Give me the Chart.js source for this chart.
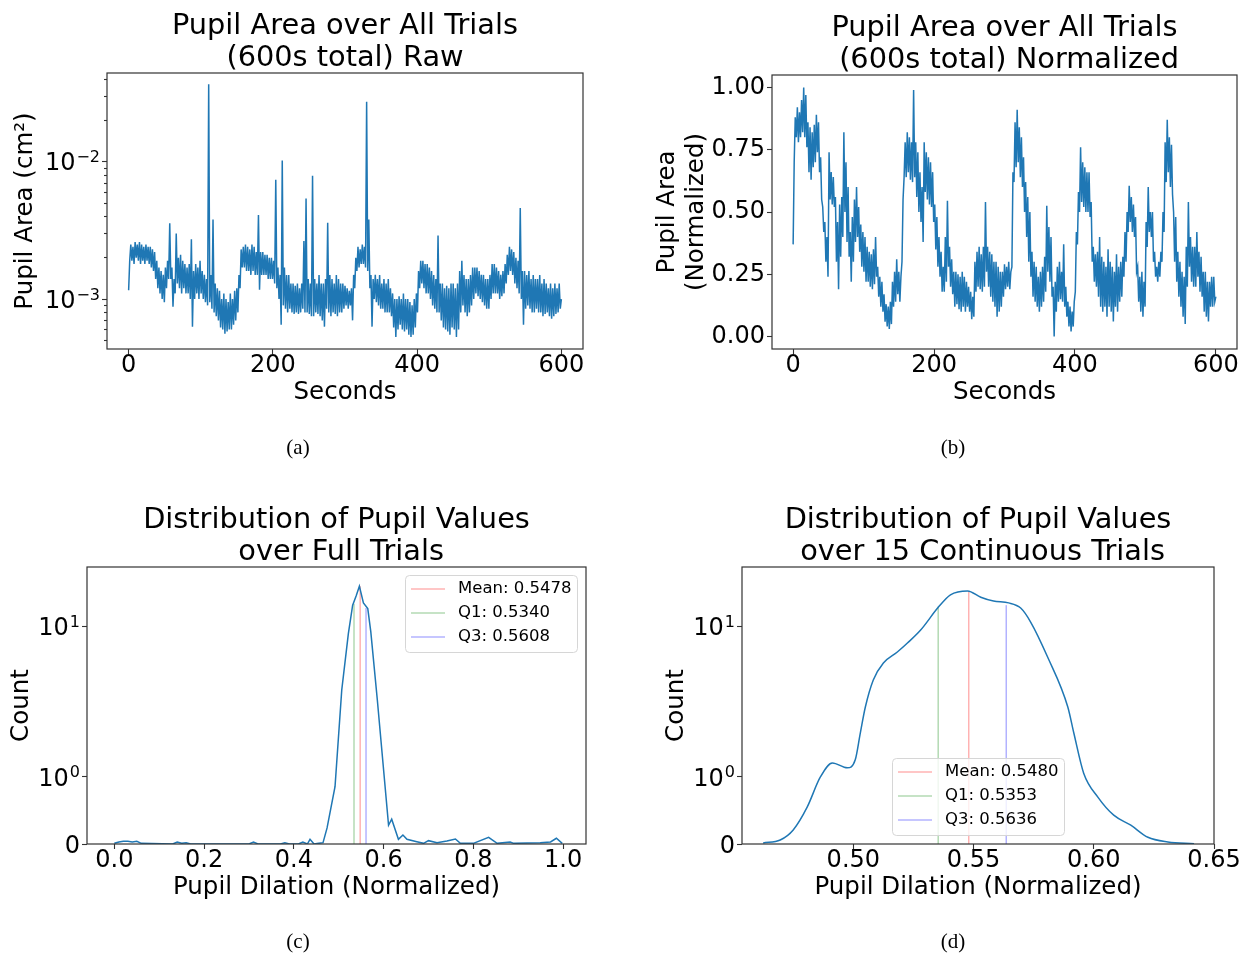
<!DOCTYPE html>
<html>
<head>
<meta charset="utf-8">
<title>Pupil area figure</title>
<script src="https://cdn.jsdelivr.net/npm/chart.js@4.4.1/dist/chart.umd.min.js"></script>
<style>
  html, body { margin: 0; padding: 0; background: #fff; }
  #wrap { position: relative; width: 1248px; height: 956px; overflow: hidden; }
  #wrap canvas { position: absolute; left: 0; top: 0; }
  .cap { position: absolute; font-family: "Liberation Serif", "DejaVu Serif", serif; font-size: 21px; color: #000; transform: translate(-50%, -50%); }
</style>
</head>
<body>
<div id="wrap">
  <canvas id="chart-raw" width="1248" height="956"></canvas>
  <canvas id="chart-norm" width="1248" height="956"></canvas>
  <canvas id="chart-full" width="1248" height="956"></canvas>
  <canvas id="chart-cont" width="1248" height="956"></canvas>
  <div class="cap" style="left:298px; top:447px;">(a)</div>
  <div class="cap" style="left:953px; top:447px;">(b)</div>
  <div class="cap" style="left:298px; top:941px;">(c)</div>
  <div class="cap" style="left:953px; top:941px;">(d)</div>
</div>
<script>
// sample times (s) for panels (a) and (b): upper samples and the in-between lower samples
const seconds = [
    0, 3, 6, 9, 12, 15, 18, 21, 24, 27,
    30, 33, 36, 39, 42, 45, 48, 51, 54, 57,
    60, 63, 66, 69, 72, 75, 78, 81, 84, 87,
    90, 93, 96, 99, 102, 105, 108, 111, 114, 117,
    120, 123, 126, 129, 132, 135, 138, 141, 144, 147,
    150, 153, 156, 159, 162, 165, 168, 171, 174, 177,
    180, 183, 186, 189, 192, 195, 198, 201, 204, 207,
    210, 213, 216, 219, 222, 225, 228, 231, 234, 237,
    240, 243, 246, 249, 252, 255, 258, 261, 264, 267,
    270, 273, 276, 279, 282, 285, 288, 291, 294, 297,
    300, 303, 306, 309, 312, 315, 318, 321, 324, 327,
    330, 333, 336, 339, 342, 345, 348, 351, 354, 357,
    360, 363, 366, 369, 372, 375, 378, 381, 384, 387,
    390, 393, 396, 399, 402, 405, 408, 411, 414, 417,
    420, 423, 426, 429, 432, 435, 438, 441, 444, 447,
    450, 453, 456, 459, 462, 465, 468, 471, 474, 477,
    480, 483, 486, 489, 492, 495, 498, 501, 504, 507,
    510, 513, 516, 519, 522, 525, 528, 531, 534, 537,
    540, 543, 546, 549, 552, 555, 558, 561, 564, 567,
    570, 573, 576, 579, 582, 585, 588, 591, 594, 597,
    600
];
const secondsMid = [
    1.5, 4.5, 7.5, 10.5, 13.5, 16.5, 19.5, 22.5, 25.5, 28.5,
    31.5, 34.5, 37.5, 40.5, 43.5, 46.5, 49.5, 52.5, 55.5, 58.5,
    61.5, 64.5, 67.5, 70.5, 73.5, 76.5, 79.5, 82.5, 85.5, 88.5,
    91.5, 94.5, 97.5, 100.5, 103.5, 106.5, 109.5, 112.5, 115.5, 118.5,
    121.5, 124.5, 127.5, 130.5, 133.5, 136.5, 139.5, 142.5, 145.5, 148.5,
    151.5, 154.5, 157.5, 160.5, 163.5, 166.5, 169.5, 172.5, 175.5, 178.5,
    181.5, 184.5, 187.5, 190.5, 193.5, 196.5, 199.5, 202.5, 205.5, 208.5,
    211.5, 214.5, 217.5, 220.5, 223.5, 226.5, 229.5, 232.5, 235.5, 238.5,
    241.5, 244.5, 247.5, 250.5, 253.5, 256.5, 259.5, 262.5, 265.5, 268.5,
    271.5, 274.5, 277.5, 280.5, 283.5, 286.5, 289.5, 292.5, 295.5, 298.5,
    301.5, 304.5, 307.5, 310.5, 313.5, 316.5, 319.5, 322.5, 325.5, 328.5,
    331.5, 334.5, 337.5, 340.5, 343.5, 346.5, 349.5, 352.5, 355.5, 358.5,
    361.5, 364.5, 367.5, 370.5, 373.5, 376.5, 379.5, 382.5, 385.5, 388.5,
    391.5, 394.5, 397.5, 400.5, 403.5, 406.5, 409.5, 412.5, 415.5, 418.5,
    421.5, 424.5, 427.5, 430.5, 433.5, 436.5, 439.5, 442.5, 445.5, 448.5,
    451.5, 454.5, 457.5, 460.5, 463.5, 466.5, 469.5, 472.5, 475.5, 478.5,
    481.5, 484.5, 487.5, 490.5, 493.5, 496.5, 499.5, 502.5, 505.5, 508.5,
    511.5, 514.5, 517.5, 520.5, 523.5, 526.5, 529.5, 532.5, 535.5, 538.5,
    541.5, 544.5, 547.5, 550.5, 553.5, 556.5, 559.5, 562.5, 565.5, 568.5,
    571.5, 574.5, 577.5, 580.5, 583.5, 586.5, 589.5, 592.5, 595.5, 598.5
];

// (a) raw pupil area (cm^2): upper samples at seconds, lower samples at secondsMid
const rawUpper = [
    0.00116, 0.0025, 0.0024, 0.0026, 0.0025, 0.0026, 0.0025, 0.0024, 0.0025, 0.0024,
    0.0024, 0.0023, 0.0022, 0.0019, 0.0017, 0.0016, 0.0015, 0.0017, 0.0019, 0.00356,
    0.0017, 0.0014, 0.0030, 0.0020, 0.0021, 0.0019, 0.0018, 0.0017, 0.0018, 0.00273,
    0.0016, 0.0018, 0.0017, 0.0019, 0.0016, 0.0015, 0.0014, 0.0367, 0.0015, 0.0038,
    0.0013, 0.0012, 0.00115, 0.0010, 0.0011, 0.0010, 0.00095, 0.0011, 0.0010, 0.00115,
    0.0012, 0.0015, 0.0023, 0.0024, 0.0025, 0.0024, 0.0023, 0.0025, 0.0024, 0.0022,
    0.0041, 0.0022, 0.0022, 0.0021, 0.0021, 0.0020, 0.0020, 0.0019, 0.0074, 0.0017,
    0.0015, 0.0102, 0.0017, 0.0015, 0.0015, 0.0013, 0.0013, 0.00125, 0.0013, 0.0012,
    0.0013, 0.00265, 0.0054, 0.0014, 0.0013, 0.0079, 0.0014, 0.0013, 0.0015, 0.0013,
    0.0013, 0.0014, 0.0036, 0.0015, 0.0014, 0.0013, 0.0015, 0.0014, 0.0013, 0.0013,
    0.00125, 0.0012, 0.00115, 0.0012, 0.0015, 0.0020, 0.0024, 0.0023, 0.0025, 0.0024,
    0.0274, 0.0038, 0.0015, 0.0014, 0.0015, 0.0014, 0.0015, 0.0013, 0.0014, 0.0013,
    0.0014, 0.0012, 0.0011, 0.0010, 0.0010, 0.00105, 0.0010, 0.0011, 0.0010, 0.0010,
    0.00095, 0.0009, 0.0010, 0.0011, 0.0016, 0.0019, 0.0019, 0.0018, 0.0018, 0.0017,
    0.0016, 0.0015, 0.0014, 0.0029, 0.0013, 0.0013, 0.0012, 0.00125, 0.0012, 0.0013,
    0.0013, 0.0012, 0.0013, 0.0016, 0.0019, 0.0015, 0.0014, 0.0014, 0.0015, 0.0017,
    0.0017, 0.0017, 0.0016, 0.0015, 0.0015, 0.0014, 0.0014, 0.0015, 0.0018, 0.0018,
    0.0017, 0.0016, 0.0015, 0.0016, 0.0018, 0.0021, 0.0024, 0.0023, 0.0022, 0.0020,
    0.0019, 0.0046, 0.0016, 0.0016, 0.0015, 0.0016, 0.0014, 0.0015, 0.0014, 0.0014,
    0.0015, 0.0013, 0.0014, 0.0013, 0.0012, 0.0013, 0.0012, 0.0013, 0.0012, 0.0013,
    0.0010
];
const rawLower = [
    0.0019, 0.0019, 0.0018, 0.0020, 0.0019, 0.0018, 0.0019, 0.0018, 0.0019, 0.0018,
    0.0017, 0.0016, 0.0014, 0.0012, 0.0011, 0.0010, 0.00095, 0.0012, 0.0014, 0.0014,
    0.00088, 0.0011, 0.0013, 0.0012, 0.0011, 0.0012, 0.0011, 0.0011, 0.0010, 0.00063,
    0.0010, 0.0011, 0.0010, 0.0011, 0.0010, 0.00095, 0.0009, 0.00095, 0.00085, 0.0008,
    0.00075, 0.0007, 0.00062, 0.0006, 0.00056, 0.00058, 0.0006, 0.0006, 0.00065, 0.0007,
    0.0008, 0.0012, 0.0017, 0.0017, 0.0016, 0.0016, 0.0015, 0.0016, 0.0015, 0.0015,
    0.00117, 0.0015, 0.0015, 0.0015, 0.0014, 0.0014, 0.0014, 0.0013, 0.0012, 0.0010,
    0.00065, 0.0009, 0.00085, 0.0008, 0.00085, 0.0008, 0.00078, 0.0008, 0.00078, 0.0008,
    0.00085, 0.0008, 0.0008, 0.00078, 0.00075, 0.00075, 0.0008, 0.00078, 0.00075, 0.0007,
    0.00063, 0.00085, 0.0008, 0.00075, 0.0008, 0.00078, 0.00075, 0.0008, 0.0008, 0.00085,
    0.0009, 0.00085, 0.0009, 0.0007, 0.0012, 0.0016, 0.0017, 0.0018, 0.0018, 0.0017,
    0.0016, 0.0012, 0.00063, 0.0010, 0.00095, 0.0009, 0.00085, 0.00085, 0.0008, 0.0008,
    0.0008, 0.00075, 0.00062, 0.00053, 0.0006, 0.00065, 0.0006, 0.00058, 0.0006, 0.00055,
    0.00053, 0.00055, 0.00062, 0.0008, 0.0012, 0.0013, 0.0012, 0.0011, 0.0011, 0.0010,
    0.0009, 0.00085, 0.0008, 0.0008, 0.0007, 0.00062, 0.0006, 0.00058, 0.00055, 0.00062,
    0.0006, 0.00053, 0.0006, 0.0008, 0.0009, 0.0008, 0.00075, 0.0008, 0.0009, 0.0010,
    0.0011, 0.00105, 0.0010, 0.00095, 0.0009, 0.00085, 0.00085, 0.0010, 0.0011, 0.0011,
    0.0011, 0.0010, 0.00105, 0.0011, 0.0013, 0.0015, 0.0016, 0.0015, 0.0013, 0.0012,
    0.0011, 0.0010, 0.00065, 0.00085, 0.0009, 0.00085, 0.0008, 0.0008, 0.00085, 0.0008,
    0.0008, 0.00075, 0.00078, 0.0008, 0.00075, 0.00072, 0.00075, 0.00078, 0.0008, 0.00085
];

// (b) normalized pupil area: upper samples at seconds, lower samples at secondsMid
const normUpper = [
    0.37, 0.88, 0.92, 0.90, 0.95, 1.00, 0.97, 0.86, 0.84, 0.82,
    0.85, 0.89, 0.86, 0.72, 0.52, 0.46, 0.40, 0.74, 0.66, 0.64,
    0.56, 0.46, 0.53, 0.56, 0.82, 0.70, 0.60, 0.42, 0.48, 0.55,
    0.60, 0.52, 0.45, 0.42, 0.40, 0.36, 0.34, 0.33, 0.35, 0.40,
    0.28, 0.24, 0.22, 0.17, 0.13, 0.12, 0.14, 0.22, 0.26, 0.31,
    0.26, 0.24, 0.55, 0.78, 0.82, 0.80, 0.78, 0.99, 0.78, 0.74,
    0.66, 0.60, 0.78, 0.74, 0.72, 0.70, 0.66, 0.53, 0.48, 0.40,
    0.34, 0.28, 0.40, 0.545, 0.36, 0.31, 0.26, 0.26, 0.25, 0.24,
    0.26, 0.24, 0.22, 0.20, 0.18, 0.16, 0.30, 0.34, 0.36, 0.33,
    0.36, 0.54, 0.36, 0.34, 0.33, 0.30, 0.30, 0.28, 0.26, 0.26,
    0.29, 0.28, 0.30, 0.26, 0.66, 0.86, 0.91, 0.84, 0.80, 0.72,
    0.62, 0.56, 0.50, 0.34, 0.30, 0.28, 0.24, 0.26, 0.28, 0.32,
    0.525, 0.44, 0.40, 0.20, 0.22, 0.28, 0.30, 0.26, 0.37, 0.20,
    0.14, 0.12, 0.10, 0.14, 0.42, 0.58, 0.76, 0.70, 0.68, 0.66,
    0.66, 0.54, 0.36, 0.33, 0.34, 0.40, 0.32, 0.30, 0.28, 0.35,
    0.30, 0.28, 0.26, 0.33, 0.28, 0.30, 0.32, 0.42, 0.50, 0.605,
    0.56, 0.53, 0.48, 0.28, 0.24, 0.26, 0.22, 0.46, 0.60, 0.50,
    0.50, 0.34, 0.28, 0.30, 0.34, 0.50, 0.78, 0.87, 0.80, 0.77,
    0.50, 0.48, 0.34, 0.30, 0.26, 0.24, 0.36, 0.54, 0.40, 0.36,
    0.36, 0.42, 0.34, 0.32, 0.26, 0.26, 0.22, 0.22, 0.24, 0.24,
    0.16
];
const normLower = [
    0.70, 0.80, 0.78, 0.80, 0.82, 0.80, 0.76, 0.66, 0.63, 0.68,
    0.70, 0.74, 0.66, 0.55, 0.42, 0.30, 0.24, 0.55, 0.53, 0.52,
    0.30, 0.19, 0.32, 0.40, 0.50, 0.38, 0.32, 0.22, 0.30, 0.38,
    0.40, 0.34, 0.28, 0.26, 0.22, 0.22, 0.20, 0.19, 0.21, 0.24,
    0.16, 0.12, 0.10, 0.06, 0.04, 0.03, 0.05, 0.12, 0.14, 0.17,
    0.14, 0.30, 0.64, 0.64, 0.66, 0.63, 0.62, 0.64, 0.56, 0.50,
    0.46, 0.38, 0.58, 0.55, 0.53, 0.52, 0.46, 0.35, 0.28, 0.24,
    0.18, 0.18, 0.22, 0.28, 0.20, 0.17, 0.12, 0.13, 0.11, 0.10,
    0.12, 0.10, 0.12, 0.10, 0.07, 0.08, 0.18, 0.20, 0.19, 0.18,
    0.20, 0.26, 0.20, 0.16, 0.14, 0.12, 0.08, 0.10, 0.12, 0.16,
    0.19, 0.20, 0.19, 0.28, 0.62, 0.68, 0.70, 0.64, 0.60, 0.50,
    0.40, 0.30, 0.24, 0.16, 0.14, 0.12, 0.10, 0.12, 0.14, 0.18,
    0.26, 0.22, 0.16, 0.00, 0.10, 0.14, 0.15, 0.14, 0.12, 0.08,
    0.04, 0.02, 0.04, 0.18, 0.37, 0.50, 0.54, 0.52, 0.50, 0.50,
    0.48, 0.30, 0.22, 0.20, 0.16, 0.12, 0.10, 0.12, 0.08, 0.12,
    0.10, 0.06, 0.12, 0.10, 0.14, 0.16, 0.24, 0.30, 0.42, 0.46,
    0.42, 0.40, 0.26, 0.14, 0.10, 0.08, 0.12, 0.36, 0.42, 0.40,
    0.30, 0.24, 0.22, 0.24, 0.30, 0.42, 0.62, 0.66, 0.60, 0.57,
    0.30, 0.22, 0.16, 0.12, 0.08, 0.05, 0.20, 0.28, 0.22, 0.20,
    0.20, 0.24, 0.18, 0.16, 0.10, 0.08, 0.06, 0.12, 0.12, 0.14
];

// (c) distribution over full trials
const fullX = [0.0, 0.01, 0.02, 0.03, 0.04, 0.05, 0.06, 0.13, 0.14, 0.15, 0.16, 0.17,
    0.30, 0.31, 0.32, 0.37, 0.38, 0.39, 0.41, 0.42, 0.43, 0.436, 0.445, 0.455, 0.465, 0.474,
    0.4917, 0.5067, 0.5215, 0.531, 0.5387, 0.546, 0.555, 0.5647, 0.5714, 0.586,
    0.611, 0.618, 0.633, 0.643, 0.652, 0.674, 0.689, 0.700, 0.719, 0.741, 0.760, 0.771,
    0.80, 0.834, 0.853, 0.882, 0.89, 0.949, 0.972, 0.985, 0.998];
const fullCount = [0.01, 0.03, 0.04, 0.04, 0.03, 0.04, 0.01, 0.0, 0.03, 0.01, 0.02, 0.0,
    0.0, 0.03, 0.0, 0.0, 0.02, 0.0, 0.0, 0.03, 0.0, 0.07, 0.0, 0.01, 0.02, 0.24,
    0.855, 3.79, 9.03, 13.9, 16.0, 18.6, 14.4, 13.2, 9.27, 3.25,
    0.28, 0.37, 0.07, 0.134, 0.07, 0.034, 0.01, 0.05, 0.02, 0.045, 0.075, 0.01,
    0.01, 0.1, 0.01, 0.03, 0.01, 0.02, 0.03, 0.085, 0.01];
const fullStats = [0.5478, 0.5340, 0.5608];
const fullStatTops = [18.6, 14.2, 13.3];

// (d) distribution over 15 continuous trials
const contX = [0.4625, 0.4696, 0.475, 0.4808, 0.4863, 0.4913, 0.4975, 0.5008, 0.5029, 0.505,
    0.5083, 0.5125, 0.5183, 0.5225, 0.528, 0.5354, 0.5404, 0.5475, 0.553, 0.5583,
    0.5646, 0.5696, 0.5738, 0.5808, 0.5892, 0.5917, 0.5958, 0.6017, 0.6083, 0.6154,
    0.6225, 0.6308, 0.6417];
const contCount = [0.015, 0.06, 0.21, 0.55, 1.0, 1.24, 1.15, 1.30, 1.96, 2.92,
    4.42, 5.73, 6.78, 7.78, 9.5, 13.5, 16.3, 17.3, 15.7, 14.8,
    14.4, 13.3, 10.7, 6.28, 2.92, 1.96, 1.06, 0.70, 0.43, 0.28,
    0.10, 0.03, 0.004];
const contStats = [0.5480, 0.5353, 0.5636];
const contStatTops = [17.0, 13.6, 13.9];

const statNames = ["Mean", "Q1", "Q3"];
const statColors = ["rgba(255,0,0,0.3)", "rgba(0,128,0,0.3)", "rgba(0,0,255,0.3)"];

// axis ticks
const secondTicks = [0, 200, 400, 600];
const areaTicks = [0.001, 0.01];
const areaTickLabels = [["10", "\u22123"], ["10", "\u22122"]];
const areaMinorTicks = [0.0005, 0.0006, 0.0007, 0.0008, 0.0009, 0.002, 0.003, 0.004, 0.005,
    0.006, 0.007, 0.008, 0.009, 0.02, 0.03, 0.04];
const normTicks = [0, 0.25, 0.5, 0.75, 1.0];
const fullTicks = [0.0, 0.2, 0.4, 0.6, 0.8, 1.0];
const contTicks = [0.50, 0.55, 0.60, 0.65];
const countTicks = [0, 1, 10];
const countTickLabels = [["0", ""], ["10", "0"], ["10", "1"]];

// symmetric log for the count axis: linear below 1, log above
const LIN_SPAN = 0.446;
function symlog(v) {
    return v <= 1 ? v * LIN_SPAN : LIN_SPAN + Math.log10(v);
}

const BLUE = "#1f77b4";
const tickFont = { family: "DejaVu Sans", size: 24, lineHeight: 1 };
const axisFont = { family: "DejaVu Sans", size: 24.5, lineHeight: 1.15 };
const headFont = { family: "DejaVu Sans", size: 28.8, weight: "normal", lineHeight: 1.125 };

function fixBox(w, h) {
    return function (scale) {
        if (w !== null) scale.width = w;
        if (h !== null) scale.height = h;
        scale.paddingLeft = 0;
        scale.paddingRight = 0;
        scale.paddingTop = 0;
        scale.paddingBottom = 0;
    };
}

function setTicks(values) {
    return function (scale) {
        scale.ticks = values.map(v => ({ value: v }));
    };
}

function tickGrid(len) {
    return { drawOnChartArea: false, drawTicks: true, tickLength: len, tickColor: "#333", tickWidth: 1.1 };
}

function xAxis(min, max, tickValues, fmt, title) {
    return {
        type: "linear", min: min, max: max,
        afterBuildTicks: setTicks(tickValues),
        afterFit: fixBox(null, 58.1),
        grid: tickGrid(5),
        border: { display: false },
        ticks: { font: tickFont, color: "#000", padding: 0, maxRotation: 0, autoSkip: false, callback: fmt },
        title: { display: true, text: title, font: axisFont, color: "#000", padding: 0 }
    };
}

function yAxis(type, min, max, tickValues, fmt, title, width) {
    return {
        type: type, position: "left", min: min, max: max, weight: 1,
        afterBuildTicks: setTicks(tickValues),
        afterFit: fixBox(width, null),
        grid: tickGrid(5),
        border: { display: false },
        ticks: { display: fmt !== null, font: tickFont, color: "#000", padding: 2, autoSkip: false, callback: fmt || undefined },
        title: { display: true, text: title, font: axisFont, color: "#000", padding: 0 }
    };
}

const framePlugin = {
    id: "frame",
    afterDatasetsDraw(chart) {
        const { ctx, chartArea: a } = chart;
        ctx.save();
        ctx.strokeStyle = "#333";
        ctx.lineWidth = 1.2;
        ctx.strokeRect(a.left, a.top, a.right - a.left, a.bottom - a.top);
        ctx.restore();
    }
};

// y tick labels written as base + raised exponent ("10" with superscript)
const powerLabels = {
    id: "powerLabels",
    afterDraw(chart, args, opts) {
        if (!opts.values) return;
        const scale = chart.scales.y;
        const ctx = chart.ctx;
        const right = chart.chartArea.left - 7;
        ctx.save();
        ctx.fillStyle = "#000";
        ctx.textAlign = "left";
        ctx.textBaseline = "alphabetic";
        opts.values.forEach(function (v, i) {
            const base = opts.labels[i][0];
            const exp = opts.labels[i][1];
            const y = scale.getPixelForValue(v);
            ctx.font = "16px 'DejaVu Sans'";
            const ew = exp ? ctx.measureText(exp).width + 1 : 0;
            ctx.font = "24px 'DejaVu Sans'";
            const bw = ctx.measureText(base).width;
            const x0 = right - ew - bw;
            ctx.fillText(base, x0, y + 8.7);
            if (exp) {
                ctx.font = "16px 'DejaVu Sans'";
                ctx.fillText(exp, x0 + bw + 1, y + 0.5);
            }
        });
        ctx.restore();
    }
};

// boxed legend listing the stat lines (datasets flagged inLegend)
const statLegend = {
    id: "statLegend",
    afterDraw(chart, args, opts) {
        if (!opts.box) return;
        const ctx = chart.ctx;
        const [x, y, w, h] = opts.box;
        ctx.save();
        ctx.fillStyle = "rgba(255,255,255,0.8)";
        ctx.strokeStyle = "#d6d6d6";
        ctx.lineWidth = 1;
        ctx.beginPath();
        ctx.roundRect(x + 0.5, y + 0.5, w, h, 4);
        ctx.fill();
        ctx.stroke();
        ctx.font = "16.5px 'DejaVu Sans'";
        ctx.textBaseline = "middle";
        chart.data.datasets.filter(d => d.inLegend).forEach(function (d, i) {
            const yy = y + 14 + i * 24;
            ctx.strokeStyle = d.borderColor;
            ctx.lineWidth = 1.5;
            ctx.beginPath();
            ctx.moveTo(x + 6, yy);
            ctx.lineTo(x + 40, yy);
            ctx.stroke();
            ctx.fillStyle = "#000";
            ctx.fillText(d.label, x + 53, yy);
        });
        ctx.restore();
    }
};

Chart.defaults.font.family = "DejaVu Sans";
Chart.defaults.color = "#000";

function headTitle(lines) {
    return { display: true, text: lines, font: headFont, color: "#000", padding: { top: 2, bottom: -2 }, fullSize: false };
}

function baseOptions(pad, title) {
    return {
        responsive: false,
        animation: false,
        events: [],
        layout: { padding: pad },
        elements: { point: { radius: 0 } },
        plugins: { legend: { display: false }, tooltip: { enabled: false }, title: title }
    };
}

// zigzag through the upper and in-between lower samples
function bandSeries(upper, lower) {
    const pts = [];
    upper.forEach(function (v, i) {
        pts.push({ x: seconds[i], y: v });
        if (i < lower.length) pts.push({ x: secondsMid[i], y: lower[i] });
    });
    return pts;
}

function statDatasets(values, tops) {
    return values.map(function (v, i) {
        return {
            label: statNames[i] + ": " + v.toFixed(4),
            data: [{ x: v, y: 0 }, { x: v, y: symlog(tops[i]) }],
            borderColor: statColors[i],
            borderWidth: 1.5,
            inLegend: true
        };
    });
}

// (a) raw, log y
const rawOpts = baseOptions({ left: 11.9, right: 665, top: 8.2, bottom: 548.9 },
    headTitle(["Pupil Area over All Trials", "(600s total) Raw"]));
rawOpts.scales = {
    x: xAxis(-30, 630, secondTicks, v => String(v), "Seconds"),
    y: yAxis("logarithmic", 0.000433, 0.0443, areaTicks, null, "Pupil Area (cm\u00B2)", 95.1),
    yMinor: {
        type: "logarithmic", position: "left", min: 0.000433, max: 0.0443, weight: 0,
        afterBuildTicks: setTicks(areaMinorTicks),
        afterFit: fixBox(0, null),
        grid: tickGrid(3),
        border: { display: false },
        ticks: { display: false }
    }
};
rawOpts.plugins.powerLabels = { values: areaTicks, labels: areaTickLabels };
new Chart(document.getElementById("chart-raw"), {
    type: "line",
    data: { datasets: [{ data: bandSeries(rawUpper, rawLower), borderColor: BLUE, borderWidth: 1.5, tension: 0 }] },
    options: rawOpts,
    plugins: [framePlugin, powerLabels]
});

// (b) normalized
const normOpts = baseOptions({ left: 653.9, right: 11, top: 10.2, bottom: 548.9 },
    headTitle(["Pupil Area over All Trials", " (600s total) Normalized"]));
normOpts.scales = {
    x: xAxis(-30, 630, secondTicks, v => String(v), "Seconds"),
    y: yAxis("linear", -0.05, 1.05, normTicks, v => v.toFixed(2), ["Pupil Area", "(Normalized)"], 118.1)
};
new Chart(document.getElementById("chart-norm"), {
    type: "line",
    data: { datasets: [{ data: bandSeries(normUpper, normLower), borderColor: BLUE, borderWidth: 1.5, tension: 0 }] },
    options: normOpts,
    plugins: [framePlugin]
});

// (c) full trials distribution
const fullOpts = baseOptions({ left: 7.9, right: 662, top: 502.2, bottom: 53.9 },
    headTitle(["Distribution of Pupil Values", " over Full Trials"]));
fullOpts.scales = {
    x: xAxis(-0.061, 1.051, fullTicks, v => v.toFixed(1), "Pupil Dilation (Normalized)"),
    y: yAxis("linear", 0, 1.843, countTicks.map(symlog), null, "Count", 79.1)
};
fullOpts.plugins.statLegend = { box: [405, 575, 172, 77] };
fullOpts.plugins.powerLabels = { values: countTicks.map(symlog), labels: countTickLabels };
new Chart(document.getElementById("chart-full"), {
    type: "line",
    data: {
        datasets: [{
            data: fullX.map((x, i) => ({ x: x, y: symlog(fullCount[i]) })),
            borderColor: BLUE, borderWidth: 1.5, tension: 0
        }].concat(statDatasets(fullStats, fullStatTops))
    },
    options: fullOpts,
    plugins: [framePlugin, powerLabels, statLegend]
});

// (d) 15 continuous trials distribution
const contOpts = baseOptions({ left: 662.9, right: 34, top: 502.2, bottom: 53.9 },
    headTitle(["Distribution of Pupil Values", " over 15 Continuous Trials"]));
contOpts.scales = {
    x: xAxis(0.4537, 0.65, contTicks, v => v.toFixed(2), "Pupil Dilation (Normalized)"),
    y: yAxis("linear", 0, 1.843, countTicks.map(symlog), null, "Count", 79.1)
};
contOpts.plugins.statLegend = { box: [892, 758, 172, 77] };
contOpts.plugins.powerLabels = { values: countTicks.map(symlog), labels: countTickLabels };
new Chart(document.getElementById("chart-cont"), {
    type: "line",
    data: {
        datasets: [{
            data: contX.map((x, i) => ({ x: x, y: symlog(contCount[i]) })),
            borderColor: BLUE, borderWidth: 1.5, cubicInterpolationMode: "monotone"
        }].concat(statDatasets(contStats, contStatTops))
    },
    options: contOpts,
    plugins: [framePlugin, powerLabels, statLegend]
});
</script>
</body>
</html>
